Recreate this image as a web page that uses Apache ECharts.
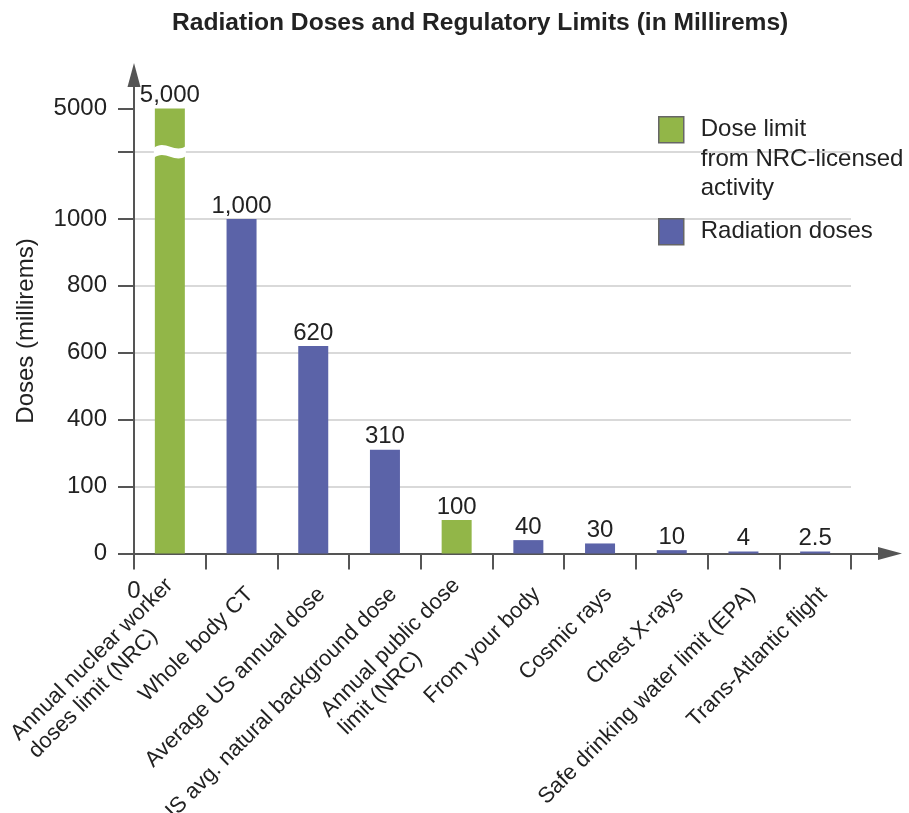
<!DOCTYPE html>
<html>
<head>
<meta charset="utf-8">
<script src="https://cdn.jsdelivr.net/npm/echarts@6/dist/echarts.min.js"></script>
<style>
html,body{margin:0;padding:0;background:#fff;}
#chart{width:909px;height:813px;}
</style>
</head>
<body>
<div id="chart"></div>
<script>
const titleText = 'Radiation Doses and Regulatory Limits (in Millirems)';
const yAxisName = 'Doses (millirems)';
const categories = [
  'Annual nuclear worker\ndoses limit (NRC)',
  'Whole body CT',
  'Average US annual dose',
  'US avg. natural background dose',
  'Annual public dose\nlimit (NRC)',
  'From your body',
  'Cosmic rays',
  'Chest X-rays',
  'Safe drinking water limit (EPA)',
  'Trans-Atlantic flight'
];
const limitName = 'Dose limit\nfrom NRC-licensed\nactivity';
const doseName = 'Radiation doses';
const limitValues = [5000, null, null, null, 100, null, null, null, null, null];
const doseValues = [null, 1000, 620, 310, null, 40, 30, 10, 4, 2.5];
const valueLabels = ['5,000', '1,000', '620', '310', '100', '40', '30', '10', '4', '2.5'];
const yTickValues = [0, 200, 400, 600, 800, 1000, 1200, 5000];
const yTickLabels = ['0', '100', '400', '600', '800', '1000', '', '5000'];
const xOriginLabel = '0';
// broken axis: the range (breakStart, breakEnd) is cut out of the scale
const breakStart = 1200;
const breakEnd = 4870;

function toAxis(v) {
  if (v == null) return null;
  return v <= breakStart ? v : breakStart + Math.max(0, v - breakEnd);
}
const yTickPos = yTickValues.map(toAxis);
const yMax = yTickPos[yTickPos.length - 1];

const GREEN = '#92b648';
const BLUE = '#5b63a8';
const AXIS = '#555555';
const TEXT = '#222222';

const chart = echarts.init(document.getElementById('chart'), null, {renderer: 'canvas'});

const barLabel = {
  show: true,
  position: 'top',
  distance: 1,
  fontSize: 24,
  color: TEXT,
  formatter: p => valueLabels[p.dataIndex]
};

chart.setOption({
  animation: false,
  backgroundColor: '#ffffff',
  textStyle: {fontFamily: 'Liberation Sans, Arial, Helvetica, sans-serif'},
  title: {
    text: titleText,
    left: 172,
    top: 11,
    padding: 0,
    textStyle: {fontSize: 24.6, fontWeight: 'bold', color: TEXT}
  },
  legend: {
    orient: 'vertical',
    left: 658,
    top: 56,
    padding: 0,
    itemGap: 13.5,
    itemWidth: 25,
    itemHeight: 26,
    icon: 'rect',
    selectedMode: false,
    itemStyle: {borderColor: '#666666', borderWidth: 1.5},
    textStyle: {fontSize: 24, color: TEXT, lineHeight: 29.5, padding: [0, 0, 0, 12]},
    // the multi-line entry starts level with its swatch
    formatter: name => (name === limitName ? '\n\n' + name : name),
    data: [limitName, doseName]
  },
  grid: [
    {left: 134, right: 58, top: 108.5, bottom: 259.5, containLabel: false, outerBoundsMode: 'none'},
    {left: 134, right: 19, top: 75, bottom: 259.5, containLabel: false, outerBoundsMode: 'none'}
  ],
  xAxis: [
    {
      gridIndex: 0,
      type: 'category',
      data: categories,
      axisLine: {show: false},
      axisTick: {show: true, length: 16, lineStyle: {color: AXIS, width: 2}},
      splitLine: {show: false},
      axisLabel: {
        interval: 0,
        rotate: 45,
        margin: 29,
        padding: [24, 0, 0, 0],
        formatter: v => v.split('\n').map(s => '{a|' + s + '}').join('\n'),
        rich: {a: {fontSize: 22, color: TEXT, lineHeight: 25, align: 'left'}}
      }
    },
    {
      gridIndex: 1,
      type: 'value',
      min: 0,
      max: 1,
      axisLine: {show: true, symbol: ['none', 'triangle'], symbolSize: [13, 24], lineStyle: {color: AXIS, width: 2}},
      axisTick: {show: false},
      splitLine: {show: false},
      axisLabel: {
        show: true,
        customValues: [0],
        showMinLabel: true,
        formatter: () => xOriginLabel,
        margin: 26,
        fontSize: 24,
        color: TEXT
      }
    }
  ],
  yAxis: [
    {
      gridIndex: 0,
      type: 'value',
      min: 0,
      max: yMax,
      name: yAxisName,
      nameLocation: 'middle',
      nameRotate: 90,
      nameGap: 96,
      nameTextStyle: {fontSize: 24, color: TEXT},
      axisLine: {show: false},
      axisTick: {show: true, length: 16, customValues: yTickPos, lineStyle: {color: AXIS, width: 2}},
      axisLabel: {
        customValues: yTickPos,
        showMinLabel: true,
        showMaxLabel: true,
        margin: 27,
        fontSize: 24,
        color: TEXT,
        formatter: v => {
          const i = yTickPos.findIndex(p => Math.abs(p - v) < 1e-6);
          return i >= 0 ? yTickLabels[i] : '';
        }
      },
      splitLine: {show: true, showMinLine: false, showMaxLine: false, lineStyle: {color: '#cccccc', width: 1.5}}
    },
    {
      gridIndex: 1,
      type: 'value',
      min: 0,
      max: 1,
      axisLine: {show: true, symbol: ['none', 'triangle'], symbolSize: [13, 24], lineStyle: {color: AXIS, width: 2}},
      axisTick: {show: false},
      axisLabel: {show: false},
      splitLine: {show: false}
    }
  ],
  series: [
    {
      name: limitName,
      type: 'bar',
      xAxisIndex: 0,
      yAxisIndex: 0,
      data: limitValues.map(toAxis),
      barWidth: 30,
      barGap: '-100%',
      barMinHeight: 2,
      itemStyle: {color: GREEN},
      label: barLabel
    },
    {
      name: doseName,
      type: 'bar',
      xAxisIndex: 0,
      yAxisIndex: 0,
      data: doseValues.map(toAxis),
      barWidth: 30,
      barGap: '-100%',
      barMinHeight: 2,
      itemStyle: {color: BLUE},
      label: barLabel
    },
    {
      name: 'axis break',
      type: 'custom',
      xAxisIndex: 0,
      yAxisIndex: 0,
      silent: true,
      z: 5,
      data: [[0, toAxis(breakStart)]],
      renderItem: function (params, api) {
        const c = api.coord([api.value(0), api.value(1)]);
        const h = 16;
        const x0 = c[0] - h, x1 = c[0] + h, y = c[1];
        const d = 'M' + x0 + ',' + (y - 4) +
          ' C' + (x0 + 11) + ',' + (y - 13) + ' ' + (x1 - 11) + ',' + (y + 2) + ' ' + x1 + ',' + (y - 6) +
          ' L' + x1 + ',' + (y + 4) +
          ' C' + (x1 - 11) + ',' + (y + 12) + ' ' + (x0 + 11) + ',' + (y - 3) + ' ' + x0 + ',' + (y + 6) + ' Z';
        return {type: 'path', shape: {pathData: d}, style: {fill: '#ffffff'}};
      }
    }
  ]
});
</script>
</body>
</html>
